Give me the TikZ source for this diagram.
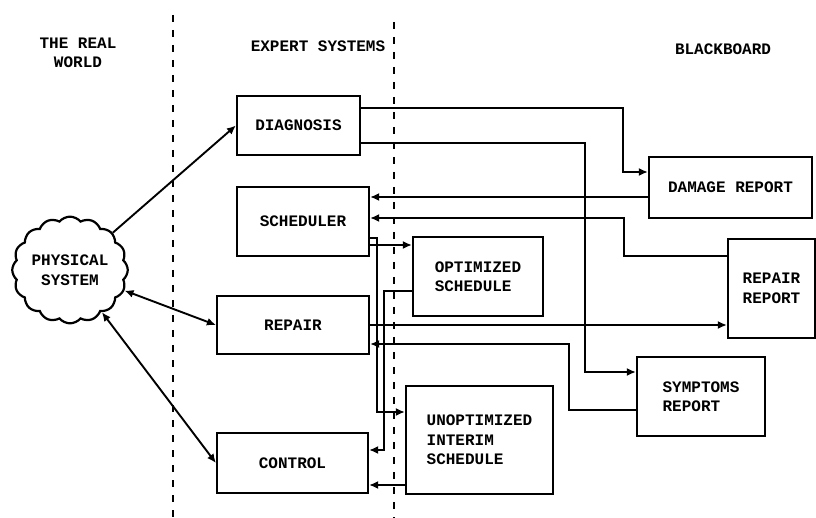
\documentclass[tikz,border=0pt]{standalone}
\usepackage{fontspec}
\setmonofont{Liberation Mono}
\usetikzlibrary{arrows.meta,shapes.symbols}

\tikzstyle{unit}=[draw=black, line width=2.2pt, font=\ttfamily\bfseries\fontsize{16}{19.5}\selectfont, inner sep=0pt]
\tikzstyle{title}=[font=\ttfamily\bfseries\fontsize{16}{19.5}\selectfont, align=center]
\tikzstyle{wire}=[line width=1.9pt, -{Latex[length=9pt,width=8pt]}]
\tikzstyle{twoway}=[line width=1.9pt, {Latex[length=9pt,width=8pt]}-{Latex[length=9pt,width=8pt]}]
\tikzstyle{divider}=[line width=2.2pt, dash pattern=on 7pt off 8pt]

\begin{document}
\begin{tikzpicture}[x=1pt, y=-1pt]
	\useasboundingbox (0,0) rectangle (816,518);

	% Boundaries between the three worlds
	\draw[divider] (173,15) -- (173,518);
	\draw[divider] (394,22) -- (394,518);

	\node[title] (realhead) at (78,53) {THE REAL\\WORLD};
	\node[title] (experthead) at (318,46) {EXPERT SYSTEMS};
	\node[title] (boardhead) at (723,49) {BLACKBOARD};

	% The physical system
	\node[unit, cloud, cloud puffs=16, cloud puff arc=100, aspect=1.1,
		minimum width=115pt, minimum height=105pt, align=center] (plant) at (70,270) {PHYSICAL\\SYSTEM};

	% Expert systems
	\node[unit, minimum width=123pt, minimum height=59pt] (diag) at (298.5,125.5) {DIAGNOSIS};
	\node[unit, minimum width=132pt, minimum height=69pt] (sched) at (303,221.5) {SCHEDULER};
	\node[unit, minimum width=152pt, minimum height=58pt] (repair) at (293,325) {REPAIR};
	\node[unit, minimum width=151pt, minimum height=60pt] (control) at (292.5,463) {CONTROL};

	% Blackboard entries
	\node[unit, minimum width=130pt, minimum height=79pt, align=left] (opt) at (478,276.5) {OPTIMIZED\\SCHEDULE};
	\node[unit, minimum width=147pt, minimum height=108pt, align=left] (unopt) at (479.5,440) {UNOPTIMIZED\\INTERIM\\SCHEDULE};
	\node[unit, minimum width=163pt, minimum height=61pt] (damage) at (730.5,187.5) {DAMAGE REPORT};
	\node[unit, minimum width=87pt, minimum height=99pt, align=left] (rrep) at (771.5,288.5) {REPAIR\\REPORT};
	\node[unit, minimum width=128pt, minimum height=79pt, align=left] (symp) at (701,396.5) {SYMPTOMS\\REPORT};

	% Links to the real world
	\draw[wire] (plant) -- (diag.west);
	\draw[twoway] (plant) -- (repair.west);
	\draw[twoway] (plant) -- (control.west);

	% Links through the blackboard
	\draw[wire] (diag.east |- 0,108) -| (623,172) -- (damage.west |- 0,172);
	\draw[wire] (diag.east |- 0,143) -| (585,372) -- (symp.west |- 0,372);
	\draw[wire] (damage.west |- 0,197) -- (sched.east |- 0,197);
	\draw[wire] (rrep.west |- 0,256) -| (624,218) -- (sched.east |- 0,218);
	\draw[wire] (sched.east |- 0,245) -- (opt.west |- 0,245);
	\draw[wire] (sched.east |- 0,238) -| (377,412) -- (unopt.west |- 0,412);
	\draw[wire] (opt.west |- 0,291) -| (384,450) -- (control.east |- 0,450);
	\draw[wire] (unopt.west |- 0,485) -- (control.east |- 0,485);
	\draw[wire] (repair.east |- 0,325) -- (rrep.west |- 0,325);
	\draw[wire] (symp.west |- 0,410) -| (569,344) -- (repair.east |- 0,344);
\end{tikzpicture}
\end{document}
